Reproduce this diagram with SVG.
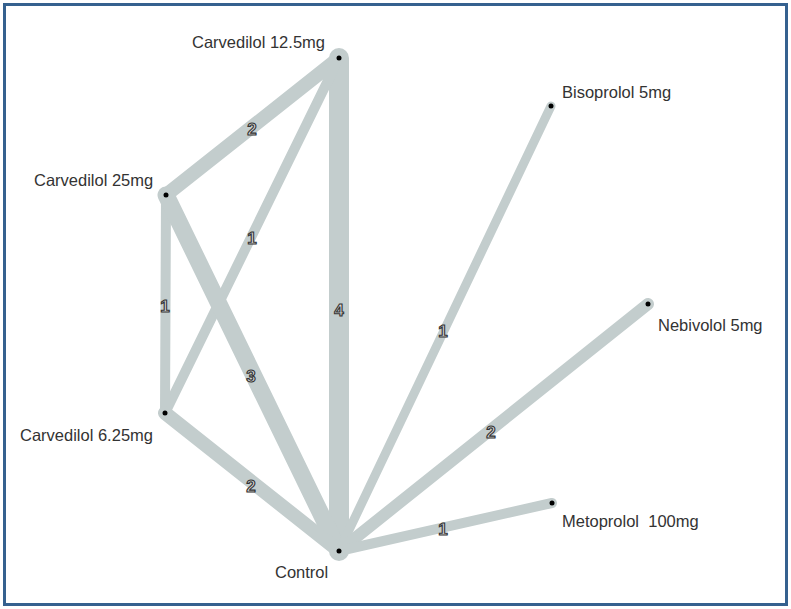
<svg xmlns="http://www.w3.org/2000/svg" width="791" height="609" viewBox="0 0 791 609">
<style>
.e{stroke:#c3cdcd;stroke-linecap:round;fill:none}
.n{font-family:"Liberation Sans",Arial,sans-serif;font-size:16.5px;fill:#333}
.l{font-family:"Liberation Sans",Arial,sans-serif;font-size:17px;font-weight:bold;fill:#d9d9d9;stroke:#333;stroke-width:1.1;text-anchor:middle}
.d{fill:#000}
</style>
<rect x="0" y="0" width="791" height="609" fill="#fff"/>
<rect x="4.5" y="4.5" width="782" height="600" fill="none" stroke="#35618f" stroke-width="3"/>
<g id="connectors">
<line class="e" x1="339" y1="58" x2="166" y2="195" stroke-width="14"/>
<line class="e" x1="339" y1="58" x2="339" y2="551" stroke-width="20"/>
<line class="e" x1="339" y1="58" x2="165" y2="413" stroke-width="10"/>
<line class="e" x1="166" y1="195" x2="165" y2="413" stroke-width="10"/>
<line class="e" x1="166" y1="195" x2="339" y2="551" stroke-width="17"/>
<line class="e" x1="165" y1="413" x2="339" y2="551" stroke-width="14"/>
<line class="e" x1="339" y1="551" x2="551" y2="106" stroke-width="9"/>
<line class="e" x1="339" y1="551" x2="648" y2="304" stroke-width="12"/>
<line class="e" x1="339" y1="551" x2="552" y2="503" stroke-width="10"/>
<text class="l" x="252" y="135">2</text>
<text class="l" x="252" y="244">1</text>
<text class="l" x="165" y="312">1</text>
<text class="l" x="339" y="316">4</text>
<text class="l" x="251" y="382">3</text>
<text class="l" x="251" y="492">2</text>
<text class="l" x="443" y="337">1</text>
<text class="l" x="491" y="438">2</text>
<text class="l" x="443" y="535">1</text>
</g>
<g id="n-c125"><circle class="d" cx="339" cy="58" r="2.5"/><text class="n" x="192" y="48">Carvedilol 12.5mg</text></g>
<g id="n-c25"><circle class="d" cx="166" cy="195" r="2.5"/><text class="n" x="34" y="186">Carvedilol 25mg</text></g>
<g id="n-c625"><circle class="d" cx="165" cy="413" r="2.5"/><text class="n" x="20" y="441">Carvedilol 6.25mg</text></g>
<g id="n-control"><circle class="d" cx="339" cy="551" r="2.5"/><text class="n" x="275" y="578">Control</text></g>
<g id="n-biso"><circle class="d" cx="551" cy="106" r="2.5"/><text class="n" x="562" y="98">Bisoprolol 5mg</text></g>
<g id="n-nebi"><circle class="d" cx="648" cy="304" r="2.5"/><text class="n" x="658" y="331">Nebivolol 5mg</text></g>
<g id="n-meto"><circle class="d" cx="552" cy="503" r="2.5"/><text class="n" x="562" y="527" xml:space="preserve">Metoprolol  100mg</text></g>
</svg>
